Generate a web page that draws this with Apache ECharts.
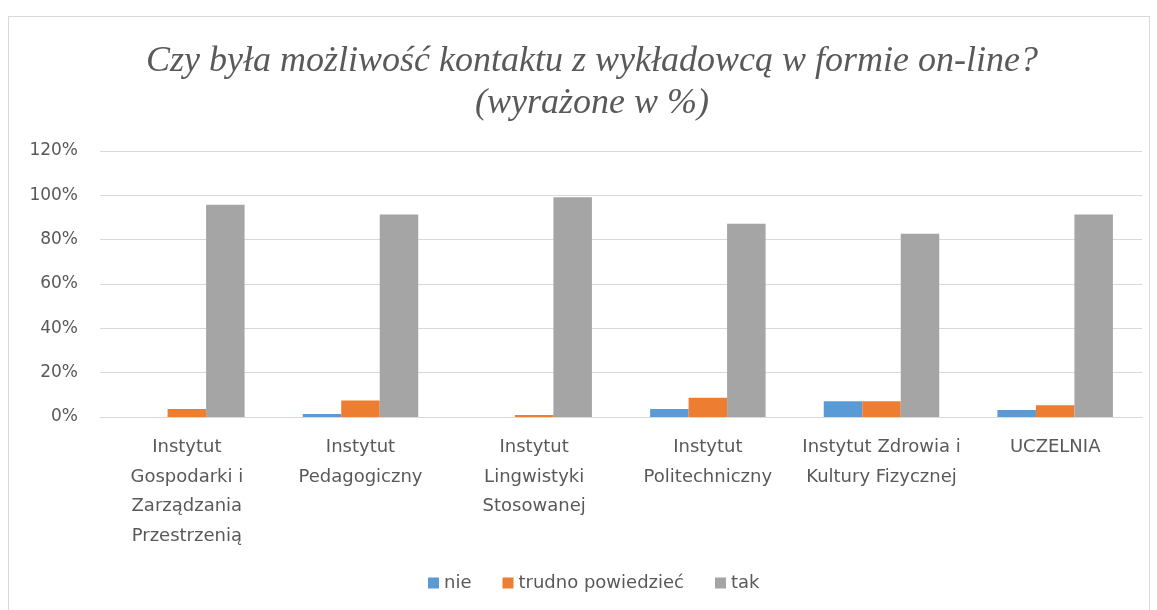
<!DOCTYPE html>
<html>
<head>
<meta charset="utf-8">
<script src="https://cdn.jsdelivr.net/npm/echarts@6/dist/echarts.min.js"></script>
<style>
  html, body { margin: 0; padding: 0; background: #fff; }
  #frame { position: absolute; left: 8px; top: 16px; width: 1142px; height: 600px; border: 1px solid #d9d9d9; box-sizing: border-box; }
  #chart { width: 1157px; height: 610px; position: absolute; left: 0; top: 0; }
</style>
</head>
<body>
<div id="frame"></div>
<div id="chart"></div>
<script>
// kategorie (instytuty)
const categories = [
  "Instytut\nGospodarki i\nZarządzania\nPrzestrzenią",
  "Instytut\nPedagogiczny",
  "Instytut\nLingwistyki\nStosowanej",
  "Instytut\nPolitechniczny",
  "Instytut Zdrowia i\nKultury Fizycznej",
  "UCZELNIA",
];
// wartości w %
const nie = [0, 1.4, 0, 3.6, 7.1, 3.2];
const trudno = [3.6, 7.5, 0.9, 8.7, 7.1, 5.3];
const tak = [95.8, 91.3, 99.1, 87.2, 82.7, 91.3];

const textColor = "#595959";
const font = "'DejaVu Sans', sans-serif";

const chart = echarts.init(document.getElementById("chart"), null, { renderer: "canvas" });

chart.setOption({
  animation: false,
  title: {
    text: "Czy była możliwość kontaktu z wykładowcą w formie on-line?\n(wyrażone w %)",
    left: 587,
    top: 36,
    textAlign: "center",
    textStyle: {
      fontFamily: "'Liberation Serif', serif",
      fontStyle: "italic",
      fontWeight: "normal",
      fontSize: 36,
      color: textColor,
      lineHeight: 42,
    },
  },
  legend: {
    bottom: 13,
    left: 423,
    itemWidth: 11,
    itemHeight: 11,
    itemGap: 31,
    icon: "rect",
    textStyle: { fontFamily: font, fontSize: 18, color: textColor },
    data: ["nie", "trudno powiedzieć", "tak"],
  },
  grid: {
    left: 100,
    right: 15,
    top: 151,
    bottom: 193,
  },
  xAxis: {
    type: "category",
    data: categories,
    axisLine: { lineStyle: { color: "#d9d9d9", width: 1 } },
    axisTick: { show: false },
    axisLabel: {
      interval: 0,
      margin: 16,
      fontFamily: font,
      fontSize: 18,
      color: textColor,
      lineHeight: 29.5,
      align: "center",
    },
  },
  yAxis: {
    type: "value",
    min: 0,
    max: 120,
    interval: 20,
    axisLabel: {
      formatter: "{value}%",
      fontFamily: font,
      fontSize: 17,
      color: textColor,
      margin: 22,
    },
    axisLine: { show: false },
    axisTick: { show: false },
    splitLine: { lineStyle: { color: "#d9d9d9", width: 1 } },
  },
  series: [
    {
      name: "nie",
      type: "bar",
      data: nie,
      barGap: "0%",
      barCategoryGap: "33.5%",
      itemStyle: { color: "#5B9BD5" },
    },
    {
      name: "trudno powiedzieć",
      type: "bar",
      data: trudno,
      itemStyle: { color: "#ED7D31" },
    },
    {
      name: "tak",
      type: "bar",
      data: tak,
      itemStyle: { color: "#A5A5A5" },
    },
  ],
});
</script>
</body>
</html>
